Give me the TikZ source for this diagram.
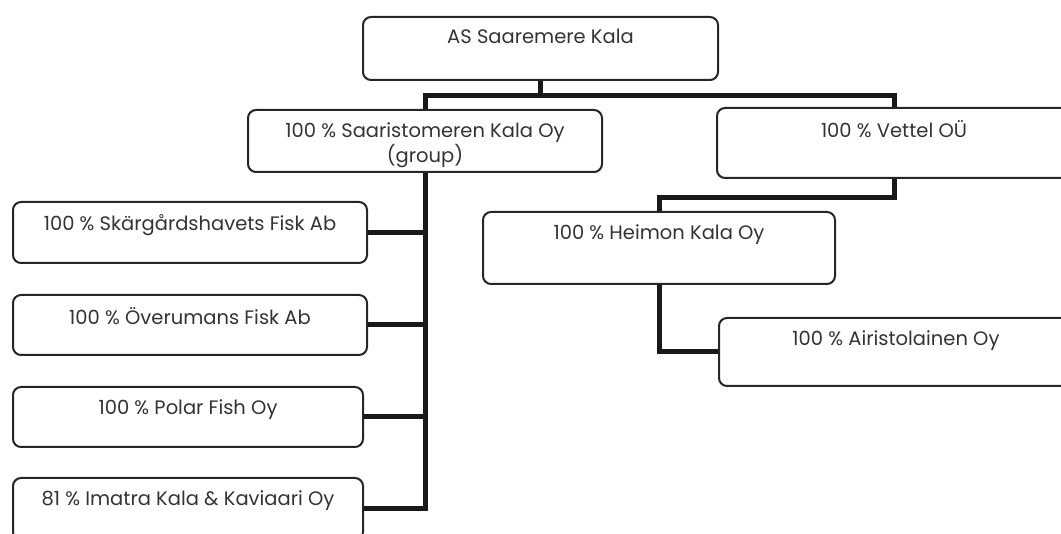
\documentclass[tikz,border=0pt]{standalone}
\usepackage{fontspec}
\setmainfont{Poppins}
\usepackage{tikz}

\tikzset{
  orgbox/.style={draw=black!85, line width=2pt, rounded corners=8pt,
    minimum width=354pt, minimum height=62pt, inner sep=0pt},
  orgtext/.style={anchor=north, inner sep=0pt, yshift=-13pt, text=black!80,
    font=\fontsize{19.5}{25}\selectfont, align=center},
  orglink/.style={line width=5pt, draw=black!90},
}

\begin{document}
\begin{tikzpicture}[x=1pt,y=-1pt]
\useasboundingbox (0,0) rectangle (1061,534);
\clip (0,0) rectangle (1061,534);

% owners
\node[orgbox, minimum width=355pt, minimum height=63pt,
  label={[orgtext]north:AS Saaremere Kala}] (kala) at (540.5,48.5) {};
\node[orgbox, label={[orgtext]north:100 \% Saaristomeren Kala Oy\\(group)}]
  (saar) at (425,141) {};
\node[orgbox, minimum height=70pt, label={[orgtext]north:100 \% Vettel OÜ}]
  (vettel) at (894,143) {};

% Saaristomeren group
\node[orgbox, minimum height=61pt, label={[orgtext]north:100 \% Skärgårdshavets Fisk Ab}]
  (skarg) at (190,232.5) {};
\node[orgbox, minimum height=60pt, label={[orgtext]north:100 \% Överumans Fisk Ab}]
  (over) at (190,325) {};
\node[orgbox, minimum width=350pt, minimum height=60pt, label={[orgtext]north:100 \% Polar Fish Oy}]
  (polar) at (188,417) {};
\node[orgbox, minimum width=350pt, label={[orgtext]north:81 \% Imatra Kala \& Kaviaari Oy}]
  (imatra) at (188,509) {};

% Vettel group
\node[orgbox, minimum width=352pt, minimum height=72pt, label={[orgtext]north:100 \% Heimon Kala Oy}]
  (heimon) at (659,248) {};
\node[orgbox, minimum height=68pt, label={[orgtext]north:100 \% Airistolainen Oy}]
  (airi) at (896,352) {};

\draw[orglink] (kala.south) -- ++(0,15) coordinate (bar) -| (saar.north);
\draw[orglink] (bar) -| (vettel.north);
\foreach \n in {skarg,over,polar,imatra}
  \draw[orglink] (saar.south) |- (\n.east);
\draw[orglink] (vettel.south) -- ++(0,19) -| (heimon.north);
\draw[orglink] (heimon.south) |- (airi.west);

\end{tikzpicture}
\end{document}
